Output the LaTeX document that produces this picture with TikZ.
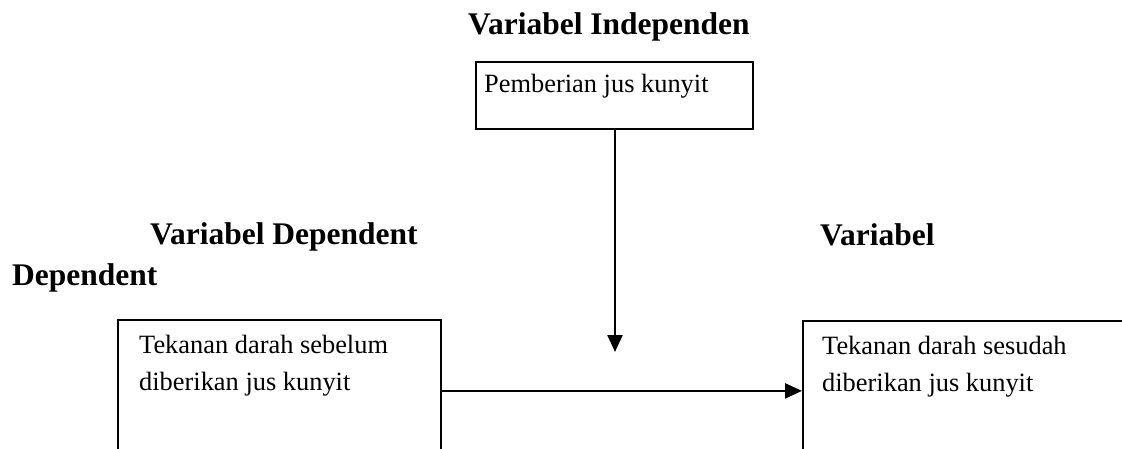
\documentclass[tikz,border=0pt]{standalone}
\usepackage{fontspec}
\setmainfont{Liberation Serif}
\usetikzlibrary{arrows.meta}
\usetikzlibrary{positioning}
\tikzset{
heading/.style = { anchor = base west, inner sep = 0pt, font = \fontsize{31.5}{36}\selectfont\bfseries },
boxtext/.style = { anchor = base west, inner sep = 0pt, align = left, font = \fontsize{26.4}{37}\selectfont },
varbox/.style = { rectangle, draw = black, line width = 1.8pt, anchor = north west, inner sep = 0pt },
link/.style = { line width = 2.4pt, -{Triangle[length = 17pt, width = 15pt]} },
}
\begin{document}
\begin{tikzpicture}[x = 1pt, y = -1pt]
    \useasboundingbox (0, 0) rectangle (1122, 449);
    \clip (0, 0) rectangle (1122, 449);
    % headings
    \node[heading] (indep) at (468, 35) {Variabel Independen};
    \node[heading] (depleft) at (150, 245) {Variabel Dependent};
    \node[heading] (depleft2) at (12, 285) {Dependent};
    \node[heading] (depright) at (820, 246) {Variabel};
    % boxes
    \node[varbox, minimum width = 277pt, minimum height = 67pt] (tbox) at (475, 61) {};
    \node[boxtext] (ttext) at (484, 93) {Pemberian jus kunyit};
    \node[varbox, minimum width = 323pt, minimum height = 142pt] (lbox) at (117, 319) {};
    \node[boxtext] (ltext) at (139, 390) {Tekanan darah sebelum\\diberikan jus kunyit};
    \node[varbox, minimum width = 340pt, minimum height = 140pt] (rbox) at (802, 320) {};
    \node[boxtext] (rtext) at (822, 391) {Tekanan darah sesudah\\diberikan jus kunyit};
    % connectors
    \coordinate (tip) at (615, 352);
    \draw[link] (tbox.south -| tip) -- (tip);
    \draw[link] (lbox.east) -- (rbox.west);
\end{tikzpicture}
\end{document}
